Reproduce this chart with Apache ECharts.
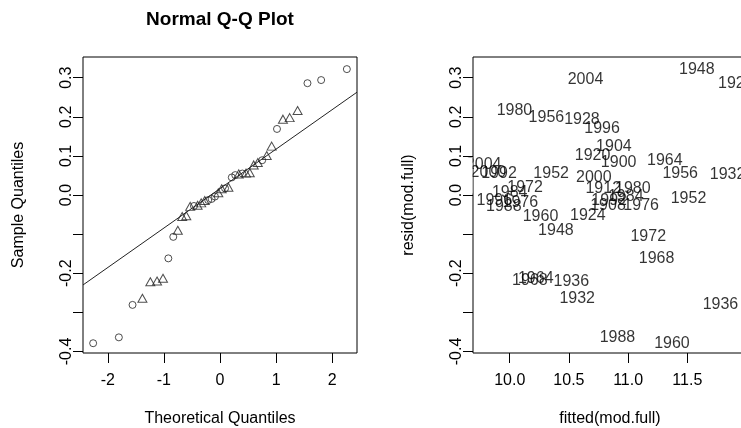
<!DOCTYPE html>
<html>
<head>
<meta charset="utf-8">
<script src="https://cdn.jsdelivr.net/npm/echarts@6/dist/echarts.min.js"></script>
<style>html,body{margin:0;padding:0;background:#fff}#c{width:741px;height:428px}</style>
</head>
<body>
<div id="c"></div>
<script>
// ---- Data: residuals of mod.full by group ----
const menYears   = [1900,1904,1908,1912,1920,1924,1928,1932,1936,1948,1952,1956,1960,1964,1968,1972,1976,1980,1984,1988,1992,1996,2000,2004];
const menFitted  = [10.92,10.88,10.83,10.79,10.70,10.66,10.61,10.57,10.52,10.39,10.35,10.31,10.26,10.22,10.17,10.13,10.09,10.04,10.00,9.95,9.91,9.87,9.82,9.78];
const menResid   = [0.083,0.125,-0.026,0.016,0.101,-0.053,0.194,-0.264,-0.222,-0.090,0.054,0.198,-0.055,-0.213,-0.220,0.020,-0.020,0.216,0.006,-0.029,0.056,-0.014,0.057,0.077];

const womenYears  = [1928,1932,1936,1948,1952,1956,1960,1964,1968,1972,1976,1980,1984,1988,1992,1996,2000,2004];
const womenFitted = [11.91,11.84,11.78,11.58,11.51,11.44,11.37,11.31,11.24,11.17,11.11,11.04,10.98,10.91,10.84,10.78,10.71,10.64];
const womenResid  = [0.286,0.051,-0.281,0.322,-0.010,0.055,-0.379,0.089,-0.162,-0.107,-0.028,0.017,-0.004,-0.364,-0.013,0.169,0.045,0.294];

// ---- Normal Q-Q plot values ----
const qqTheoretical = [-2.261,-1.803,-1.559,-1.383,-1.242,-1.122,-1.016,-0.921,-0.833,-0.752,-0.674,-0.601,-0.531,-0.464,-0.399,-0.335,-0.272,-0.210,-0.150,-0.090,-0.030,0.030,0.090,0.150,0.210,0.272,0.335,0.399,0.464,0.531,0.601,0.674,0.752,0.833,0.921,1.016,1.122,1.242,1.383,1.559,1.803,2.261];
const qqSample      = [-0.379,-0.364,-0.281,-0.264,-0.222,-0.220,-0.213,-0.162,-0.107,-0.090,-0.055,-0.053,-0.029,-0.028,-0.026,-0.020,-0.014,-0.013,-0.010,-0.004,0.006,0.016,0.017,0.020,0.045,0.051,0.054,0.055,0.056,0.057,0.077,0.083,0.089,0.101,0.125,0.169,0.194,0.198,0.216,0.286,0.294,0.322];
const qqGroup       = ['W','W','W','M','M','M','M','W','W','M','M','M','M','W','M','M','M','W','W','W','M','M','W','M','W','W','M','W','M','M','M','M','W','M','M','W','M','M','M','W','W','W'];
const qqLineX = [-2.442, 2.442];
const qqLineY = [-0.230, 0.263];

// ---- Axis ticks ----
const qqXTicks = [-2,-1,0,1,2];
const residTicks = [-0.4,-0.3,-0.2,-0.1,0.0,0.1,0.2,0.3];
const residLabels = [-0.4,-0.2,0.0,0.1,0.2,0.3];
const fittedTicks = [10.0,10.5,11.0,11.5];

const FONT = 'Liberation Sans, Arial, Helvetica, sans-serif';
const INK = '#000';

const circles = [], triangles = [];
qqTheoretical.forEach((t,i)=>{ (qqGroup[i]==='W'?circles:triangles).push([t, qqSample[i]]); });
const labelsData = [];
menYears.forEach((y,i)=>labelsData.push([menFitted[i], menResid[i], String(y)]));
womenYears.forEach((y,i)=>labelsData.push([womenFitted[i], womenResid[i], String(y)]));

const FIT_MIN = 9.690, FIT_MAX = 12.004;

function yAxisCfg(grid, name){
  return {
    type:'value', gridIndex:grid, min:-0.404, max:0.353,
    name:name, nameLocation:'middle', nameGap:56, nameRotate:90,
    nameTextStyle:{fontFamily:FONT, fontSize:16, color:INK},
    axisLine:{show:false, onZero:false},
    axisTick:{show:true, length:10, customValues:residTicks, lineStyle:{color:INK, width:1}},
    axisLabel:{show:true, rotate:90, margin:8, customValues:residLabels, fontFamily:FONT, fontSize:16, color:INK,
      formatter:v=>Number(v).toFixed(1)},
    splitLine:{show:false}
  };
}

const option = {
  animation:false,
  backgroundColor:'#fff',
  title:{text:'Normal Q-Q Plot', left:220, top:10, textAlign:'center', padding:0,
    textStyle:{fontFamily:FONT, fontSize:19, fontWeight:'bold', color:INK}},
  grid:[
    {left:83, top:57, width:274, height:296, show:true, borderColor:INK, borderWidth:1, backgroundColor:'transparent', containLabel:false, outerBoundsMode:'none'},
    {left:473, top:57, width:274, height:296, show:true, borderColor:INK, borderWidth:1, backgroundColor:'transparent', containLabel:false, outerBoundsMode:'none'}
  ],
  xAxis:[
    {type:'value', gridIndex:0, min:-2.442, max:2.442,
     name:'Theoretical Quantiles', nameLocation:'middle', nameGap:58,
     nameTextStyle:{fontFamily:FONT, fontSize:16, color:INK},
     axisLine:{show:false, onZero:false},
     axisTick:{show:true, length:10, customValues:qqXTicks, lineStyle:{color:INK}},
     axisLabel:{show:true, margin:20, customValues:qqXTicks, fontFamily:FONT, fontSize:16, color:INK},
     splitLine:{show:false}},
    {type:'value', gridIndex:1, min:FIT_MIN, max:FIT_MAX,
     name:'fitted(mod.full)', nameLocation:'middle', nameGap:58,
     nameTextStyle:{fontFamily:FONT, fontSize:16, color:INK},
     axisLine:{show:false, onZero:false},
     axisTick:{show:true, length:10, customValues:fittedTicks, lineStyle:{color:INK}},
     axisLabel:{show:true, margin:20, customValues:fittedTicks, fontFamily:FONT, fontSize:16, color:INK,
       formatter:v=>Number(v).toFixed(1)},
     splitLine:{show:false}}
  ],
  yAxis:[ yAxisCfg(0,'Sample Quantiles'), yAxisCfg(1,'resid(mod.full)') ],
  series:[
    {type:'line', xAxisIndex:0, yAxisIndex:0, data:qqLineX.map((x,i)=>[x,qqLineY[i]]),
     symbol:'none', lineStyle:{color:'#222', width:1}, silent:true, z:1},
    {type:'scatter', xAxisIndex:0, yAxisIndex:0, data:circles, symbol:'circle', symbolSize:7,
     itemStyle:{color:'rgba(0,0,0,0)', borderColor:'#222', borderWidth:1}, z:2},
    {type:'scatter', xAxisIndex:0, yAxisIndex:0, data:triangles, symbol:'triangle', symbolSize:[9,8],
     itemStyle:{color:'rgba(0,0,0,0)', borderColor:'#222', borderWidth:1}, z:2},
    {type:'scatter', xAxisIndex:1, yAxisIndex:1, data:labelsData, symbolSize:0,
     itemStyle:{color:'rgba(0,0,0,0)'},
     label:{show:true, position:'inside', formatter:p=>p.value[2], fontFamily:FONT, fontSize:16, color:INK},
     z:3}
  ]
};
const chart = echarts.init(document.getElementById('c'), null, {renderer:'canvas'});
chart.setOption(option);

// Clip text labels at the left edge of the residual plot (as R clips text to the plot region):
// a small white mask just left of the plot box, between the 0.0 and 0.1 ticks.
const edge = chart.convertToPixel({gridIndex:1}, [FIT_MIN, 0.1]);
const low  = chart.convertToPixel({gridIndex:1}, [FIT_MIN, 0.0]);
chart.setOption({
  graphic:[{type:'rect', z:100, silent:true,
    shape:{x:edge[0]-8, y:edge[1]+1.5, width:7.5, height:(low[1]-edge[1])-3},
    style:{fill:'#fff'}}]
});
</script>
</body>
</html>
